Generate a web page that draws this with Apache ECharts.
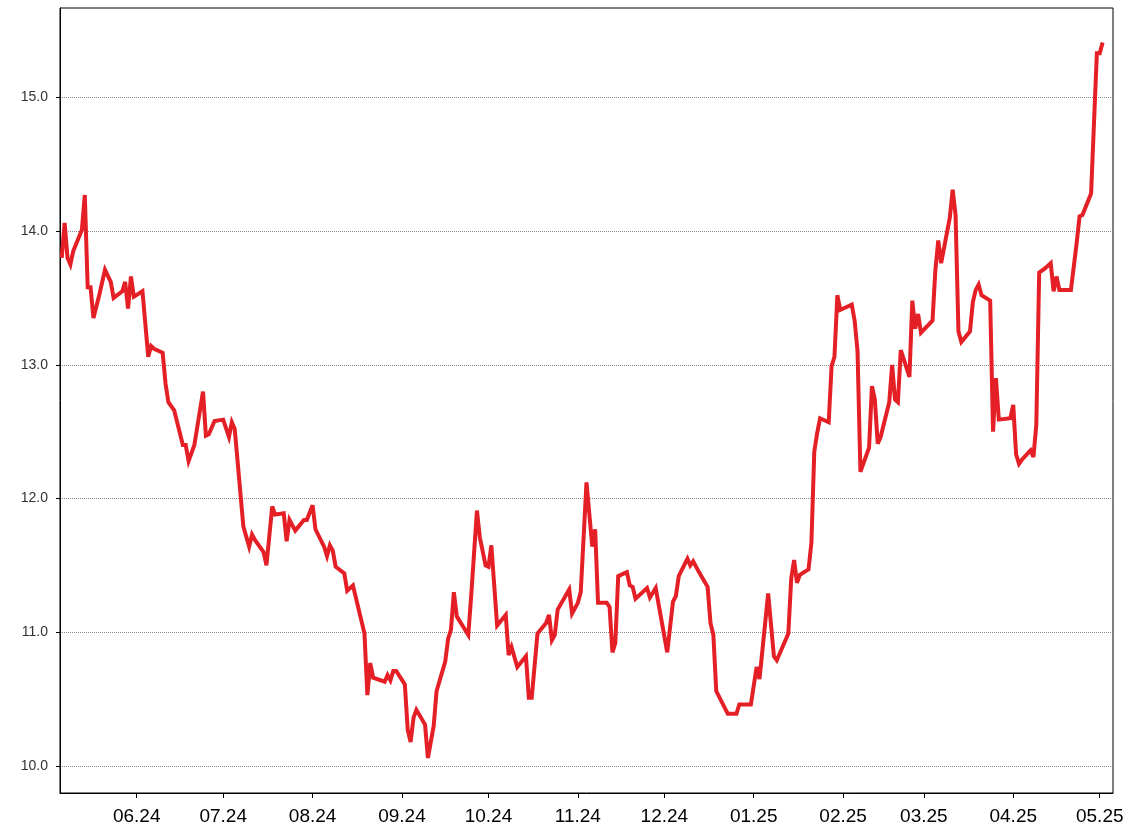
<!DOCTYPE html>
<html>
<head>
<meta charset="utf-8">
<script src="https://cdn.jsdelivr.net/npm/echarts@6/dist/echarts.min.js"></script>
<style>
html,body{margin:0;padding:0;background:#fff;}
#chart{width:1128px;height:836px;}
</style>
</head>
<body>
<div id="chart"></div>
<script>
const dates = [
'2024-05-06','2024-05-07','2024-05-08','2024-05-09','2024-05-10','2024-05-13','2024-05-14','2024-05-15','2024-05-16','2024-05-17',
'2024-05-19','2024-05-21','2024-05-23','2024-05-24','2024-05-27','2024-05-28','2024-05-29','2024-05-30','2024-05-31','2024-06-03',
'2024-06-05','2024-06-06','2024-06-07','2024-06-10','2024-06-11','2024-06-12','2024-06-14','2024-06-17','2024-06-18','2024-06-19',
'2024-06-21','2024-06-24','2024-06-25','2024-06-26','2024-06-28','2024-07-01','2024-07-03','2024-07-04','2024-07-05','2024-07-08',
'2024-07-10','2024-07-11','2024-07-12','2024-07-15','2024-07-16','2024-07-18','2024-07-19','2024-07-22','2024-07-23','2024-07-24',
'2024-07-26','2024-07-29','2024-07-30','2024-08-01','2024-08-02','2024-08-05','2024-08-06','2024-08-07','2024-08-08','2024-08-09',
'2024-08-12','2024-08-13','2024-08-15','2024-08-19','2024-08-20','2024-08-21','2024-08-22','2024-08-26','2024-08-27','2024-08-28',
'2024-08-29','2024-08-30','2024-09-02','2024-09-03','2024-09-04','2024-09-05','2024-09-06','2024-09-09','2024-09-10','2024-09-12',
'2024-09-13','2024-09-16','2024-09-17','2024-09-18','2024-09-19','2024-09-20','2024-09-24','2024-09-25','2024-09-27','2024-09-28',
'2024-09-30','2024-10-01','2024-10-02','2024-10-04','2024-10-07','2024-10-08','2024-10-09','2024-10-11','2024-10-14','2024-10-15',
'2024-10-16','2024-10-18','2024-10-21','2024-10-22','2024-10-23','2024-10-24','2024-10-25','2024-10-29','2024-10-30','2024-11-01',
'2024-11-02','2024-11-04','2024-11-06','2024-11-07','2024-11-08','2024-11-11','2024-11-12','2024-11-13','2024-11-14','2024-11-15',
'2024-11-18','2024-11-19','2024-11-20','2024-11-21','2024-11-25','2024-11-26','2024-11-28','2024-12-02','2024-12-04','2024-12-05',
'2024-12-06','2024-12-09','2024-12-10','2024-12-11','2024-12-13','2024-12-16','2024-12-17','2024-12-18','2024-12-19','2024-12-23',
'2024-12-26','2024-12-27','2024-12-31','2025-01-02','2025-01-03','2025-01-06','2025-01-08','2025-01-09','2025-01-13','2025-01-14',
'2025-01-15','2025-01-16','2025-01-17','2025-01-20','2025-01-21','2025-01-22','2025-01-23','2025-01-24','2025-01-27','2025-01-28',
'2025-01-29','2025-01-30','2025-01-31','2025-02-02','2025-02-04','2025-02-05','2025-02-06','2025-02-07','2025-02-10','2025-02-11',
'2025-02-12','2025-02-13','2025-02-14','2025-02-17','2025-02-18','2025-02-19','2025-02-20','2025-02-21','2025-02-24','2025-02-25',
'2025-02-26','2025-02-27','2025-02-28','2025-03-04','2025-03-05','2025-03-06','2025-03-07','2025-03-10','2025-03-11','2025-03-12',
'2025-03-13','2025-03-14','2025-03-17','2025-03-18','2025-03-19','2025-03-20','2025-03-21','2025-03-24','2025-03-25','2025-03-26',
'2025-03-27','2025-03-31','2025-04-01','2025-04-02','2025-04-03','2025-04-04','2025-04-07','2025-04-08','2025-04-09','2025-04-10',
'2025-04-12','2025-04-14','2025-04-15','2025-04-16','2025-04-17','2025-04-21','2025-04-23','2025-04-24','2025-04-25',
'2025-04-28','2025-04-30','2025-05-01','2025-05-02'
];
const values = [
13.80,14.06,13.80,13.75,13.85,14.01,14.27,13.58,13.58,13.35,
13.52,13.71,13.62,13.50,13.55,13.62,13.42,13.66,13.51,13.55,
13.06,13.14,13.12,13.09,12.86,12.72,12.66,12.40,12.40,12.28,
12.40,12.80,12.47,12.48,12.58,12.59,12.46,12.57,12.52,11.79,
11.64,11.73,11.69,11.60,11.50,11.94,11.88,11.89,11.68,11.84,
11.76,11.84,11.84,11.95,11.77,11.64,11.57,11.65,11.61,11.49,
11.44,11.31,11.35,10.99,10.53,10.77,10.66,10.63,10.68,10.64,
10.71,10.71,10.61,10.27,10.18,10.36,10.42,10.31,10.06,10.30,
10.56,10.78,10.95,11.02,11.30,11.12,10.98,11.27,11.91,11.71,
11.50,11.49,11.65,11.05,11.13,10.83,10.89,10.74,10.82,10.51,
10.51,10.99,11.07,11.13,10.94,10.98,11.17,11.32,11.14,11.22,
11.30,12.12,11.64,11.77,11.22,11.22,11.19,10.85,10.92,11.42,
11.45,11.35,11.34,11.25,11.33,11.26,11.33,10.85,11.23,11.27,
11.42,11.55,11.50,11.53,11.45,11.34,11.07,10.98,10.56,10.39,
10.39,10.46,10.46,10.74,10.65,11.29,10.82,10.79,10.99,11.40,
11.54,11.37,11.43,11.47,11.67,12.35,12.49,12.60,12.57,12.99,
13.06,13.52,13.41,13.43,13.45,13.33,13.10,12.20,12.38,12.84,
12.74,12.41,12.46,12.72,13.00,12.74,12.72,13.11,12.91,13.48,
13.27,13.38,13.24,13.33,13.71,13.93,13.76,14.10,14.31,14.12,
13.25,13.17,13.25,13.47,13.56,13.60,13.52,13.48,12.50,12.90,
12.59,12.60,12.70,12.33,12.26,12.29,12.36,12.31,12.55,13.69,
13.72,13.76,13.55,13.66,13.56,13.56,13.91,14.11,14.12,
14.28,15.33,15.33,15.41
];
const xTickDates = ['2024-06-01','2024-07-01','2024-08-01','2024-09-01','2024-10-01','2024-11-01','2024-12-01','2025-01-01','2025-02-01','2025-03-01','2025-04-01','2025-05-01'];
const yTickValues = [10, 11, 12, 13, 14, 15];
const xRange = ['2024-05-05T09:36', '2025-05-05T14:24'];

function toTs(s) {
  const m = s.match(/^(\d{4})-(\d{2})-(\d{2})(?:T(\d{2}):(\d{2}))?$/);
  return new Date(+m[1], +m[2] - 1, +m[3], m[4] ? +m[4] : 0, m[5] ? +m[5] : 0).getTime();
}

const seriesData = dates.map((d, i) => [toTs(d), values[i]]);
const xTicks = xTickDates.map(toTs);
const chart = echarts.init(document.getElementById('chart'), null, {renderer: 'canvas'});
chart.setOption({
  animation: false,
  backgroundColor: '#ffffff',
  grid: {left: 60, top: 8, right: 15, bottom: 43, show: true, borderColor: '#000', borderWidth: 1, containLabel: false},
  xAxis: {
    type: 'value',
    min: toTs(xRange[0]),
    max: toTs(xRange[1]),
    axisLine: {show: true, lineStyle: {color: '#000', width: 1}},
    axisTick: {show: true, inside: false, length: 5, lineStyle: {color: '#000', width: 1}, customValues: xTicks},
    axisLabel: {
      show: true, customValues: xTicks, margin: 14,
      color: '#000', fontSize: 19, fontFamily: 'Liberation Sans, Arial, sans-serif',
      formatter: function (v) {
        const d = new Date(v);
        return String(d.getMonth() + 1).padStart(2, '0') + '.' + String(d.getFullYear() % 100).padStart(2, '0');
      }
    },
    splitLine: {show: false}
  },
  yAxis: {
    type: 'value',
    min: 9.798,
    max: 15.668,
    axisLine: {show: true, lineStyle: {color: '#000', width: 1}},
    axisTick: {show: true, inside: false, length: 4, lineStyle: {color: '#000', width: 1}, customValues: yTickValues},
    axisLabel: {
      show: true, customValues: yTickValues, margin: 12,
      color: '#333', fontSize: 14, fontFamily: 'Liberation Sans, Arial, sans-serif',
      formatter: function (v) { return Number(v).toFixed(1); }
    },
    splitLine: {show: true, lineStyle: {color: '#8a8a8a', width: 1, type: [1, 1]}}
  },
  series: [{
    type: 'line',
    data: seriesData,
    showSymbol: false,
    symbol: 'none',
    lineStyle: {color: '#e41f26', width: 4, join: 'miter', miterLimit: 4},
    emphasis: {disabled: true}
  }]
});
</script>
</body>
</html>
